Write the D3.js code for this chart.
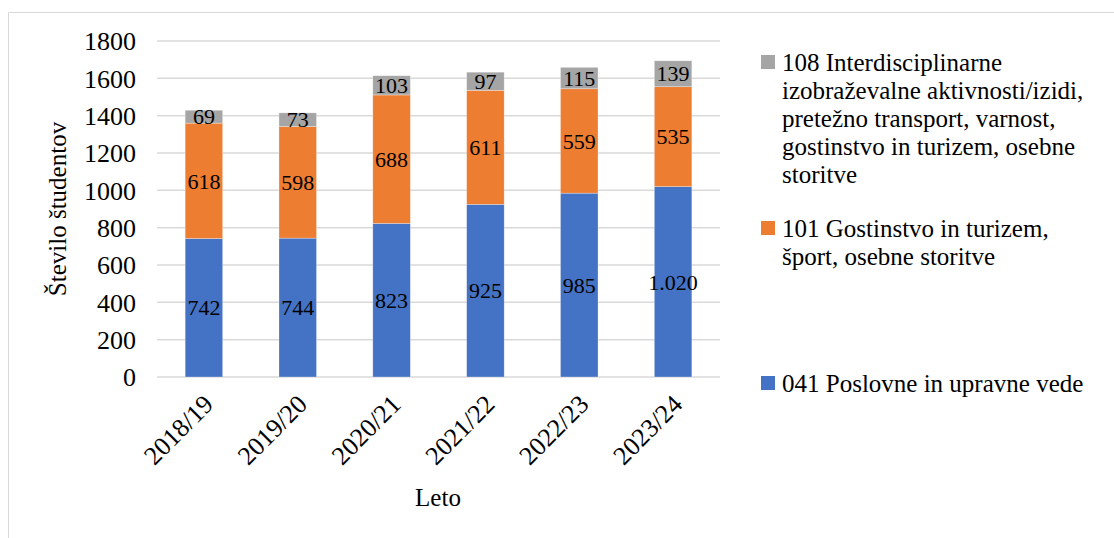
<!DOCTYPE html>
<html><head><meta charset="utf-8">
<script src="https://cdn.jsdelivr.net/npm/d3@7"></script>
<style>html,body{margin:0;padding:0;background:#fff;} svg{display:block;}</style>
</head><body>
<svg id="c" width="1114" height="538"></svg>
<script>
const categories = ["2018/19","2019/20","2020/21","2021/22","2022/23","2023/24"];
const seriesNames = ["041 Poslovne in upravne vede","101 Gostinstvo in turizem, šport, osebne storitve","108 Interdisciplinarne izobraževalne aktivnosti/izidi, pretežno transport, varnost, gostinstvo in turizem, osebne storitve"];
const poslovne = [742,744,823,925,985,1020];
const gostinstvo = [618,598,688,611,559,535];
const interdisc = [69,73,103,97,115,139];
const yTicks = [0,200,400,600,800,1000,1200,1400,1600,1800];
const legendLines = [
  ["108 Interdisciplinarne","izobraževalne aktivnosti/izidi,","pretežno transport, varnost,","gostinstvo in turizem, osebne","storitve"],
  ["101 Gostinstvo in turizem,","šport, osebne storitve"],
  ["041 Poslovne in upravne vede"]
];
const colors = ["#4472C4","#ED7D31","#A5A5A5"];

(function(){
  // pick first installed serif font
  const cands = ["Liberation Serif","Tinos","Times New Roman","Times","DejaVu Serif","Noto Serif","FreeSerif","Nimbus Roman","Nimbus Roman No9 L","Georgia"];
  const ctx = document.createElement("canvas").getContext("2d");
  const sample = "mmmmmmmmmmlli1WWQ@#";
  const w = f => { ctx.font = "40px " + f; return ctx.measureText(sample).width; };
  const bases = ["monospace","sans-serif","cursive"].map(b=>[b,w(b)]);
  let chosen = null;
  for (const c of cands) {
    if (bases.some(([b,bw]) => Math.abs(w(`'${c}',${b}`) - bw) > 0.5)) { chosen = c; break; }
  }
  const FF = chosen ? `'${chosen}', serif` : "serif";

const svg = d3.select("#c").attr("font-family",FF);
// frame
svg.append("line").attr("x1",8.5).attr("x2",1114).attr("y1",12.5).attr("y2",12.5).attr("stroke","#d9d9d9").attr("stroke-width",1);
svg.append("line").attr("x1",8.5).attr("x2",8.5).attr("y1",12.5).attr("y2",538).attr("stroke","#d9d9d9").attr("stroke-width",1);

const pL=157, pR=720, pT=41, pB=377;
const x = d3.scaleBand().domain(categories).range([pL,pR]).paddingInner(0.6).paddingOuter(0.3);
const y = d3.scaleLinear().domain([0,1800]).range([pB,pT]);

// grid
svg.append("g").selectAll("line").data(yTicks).join("line")
  .attr("x1",pL).attr("x2",pR).attr("y1",d=>y(d)).attr("y2",d=>y(d))
  .attr("stroke","#d9d9d9").attr("stroke-width",1.5);

// y axis
const yAxis = d3.axisLeft(y).tickValues(yTicks).tickSize(0).tickPadding(0).tickFormat(d3.format("d"));
const ya = svg.append("g").attr("transform",`translate(136,0)`).call(yAxis);
ya.attr("font-family",FF).attr("font-size",26);
ya.select(".domain").remove();
ya.selectAll("text").attr("fill","#000").attr("dy","0.34em");

const data = categories.map((c,i)=>({cat:c, vals:[poslovne[i],gostinstvo[i],interdisc[i]]}));
const stack = d3.stack().keys([0,1,2]).value((d,k)=>d.vals[k]);
const stacked = stack(data);
const fmt = v => v>=1000 ? d3.format(",")(v).replace(/,/g,".") : String(v);

stacked.forEach((layer,k)=>{
  const g = svg.append("g");
  g.selectAll("rect").data(layer).join("rect")
    .attr("x",d=>x(d.data.cat)).attr("width",x.bandwidth())
    .attr("y",d=>y(d[1])).attr("height",d=>y(d[0])-y(d[1]))
    .attr("fill",colors[k]).attr("stroke","#fff").attr("stroke-width",0.6).attr("stroke-opacity",0.5);
  g.selectAll("text").data(layer).join("text")
    .attr("x",d=>x(d.data.cat)+x.bandwidth()/2)
    .attr("y",d=>(y(d[0])+y(d[1]))/2)
    .attr("dy","0.35em").attr("text-anchor","middle").attr("font-size",22).attr("fill","#000")
    .text(d=>fmt(d.data.vals[k]));
});

// x labels
svg.append("g").selectAll("text").data(categories).join("text")
  .attr("transform",d=>`translate(${x(d)+x.bandwidth()/2-2},${pB+16}) rotate(-45)`)
  .attr("text-anchor","end").attr("dy","0.7em").attr("font-size",26).attr("fill","#000")
  .text(d=>d);

// axis titles
svg.append("text").attr("x",438).attr("y",506).attr("text-anchor","middle").attr("font-size",25).text("Leto");
svg.append("text").attr("transform",`translate(66,${(pT+pB)/2}) rotate(-90)`).attr("text-anchor","middle").attr("font-size",25).text("Število študentov");

// legend
const legendY = [62,228,383];
const order = [2,1,0];
order.forEach((s,i)=>{
  const g = svg.append("g");
  g.append("rect").attr("x",761).attr("y",legendY[i]-7).attr("width",14).attr("height",14).attr("fill",colors[s]);
  const t = g.append("text").attr("font-size",25).attr("fill","#000");
  legendLines[i].forEach((ln,j)=>{
    t.append("tspan").attr("x",782).attr("y",legendY[i]+j*28).attr("dy","0.35em").text(ln);
  });
});
})();
</script>
</body></html>
